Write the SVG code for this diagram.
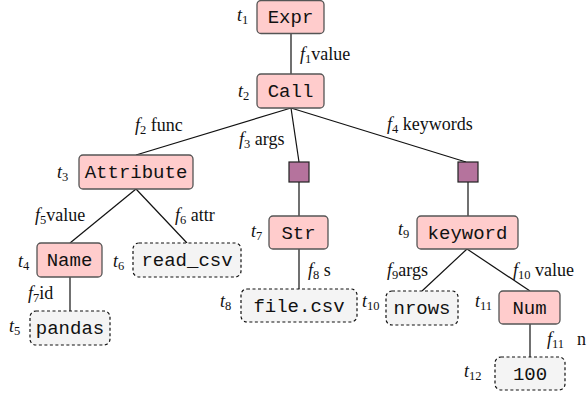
<svg xmlns="http://www.w3.org/2000/svg" width="587" height="396" viewBox="0 0 587 396">
<style>
.n rect{fill:#ffcccc;stroke:#555;stroke-width:1.3}
.d rect{fill:#f4f4f4;stroke:#111;stroke-width:1.2;stroke-dasharray:3,2.5}
.s rect{fill:#b5739d;stroke:#222;stroke-width:1.2}
.lbl{font-family:"Liberation Mono","DejaVu Sans Mono",monospace;font-size:19px;fill:#111;text-anchor:middle}
.t{font-family:"Liberation Serif","Times New Roman",serif;font-size:18px;fill:#111}
.i{font-style:italic}
.sub{font-size:12.5px}
#edges line{stroke:#111;stroke-width:1.2}
</style>
<rect width="587" height="396" fill="#fff"/>
<g id="edges">
<line x1="291" y1="33" x2="291" y2="74"/>
<line x1="291" y1="108" x2="136" y2="155"/>
<line x1="291" y1="108" x2="299" y2="162"/>
<line x1="291" y1="108" x2="466" y2="162"/>
<line x1="136" y1="189" x2="70" y2="243"/>
<line x1="136" y1="189" x2="187" y2="243"/>
<line x1="70" y1="277" x2="70" y2="311"/>
<line x1="299" y1="182" x2="299" y2="216"/>
<line x1="299" y1="249" x2="299" y2="289"/>
<line x1="468" y1="182" x2="468" y2="216"/>
<line x1="467" y1="249" x2="422" y2="291"/>
<line x1="467" y1="249" x2="530" y2="291"/>
<line x1="530" y1="324" x2="530" y2="357"/>
</g>
<g id="t1" class="n"><rect x="257" y="0.5" width="67" height="33" rx="4"/><text class="lbl" x="290.5" y="23">Expr</text></g>
<g id="t2" class="n"><rect x="257" y="74" width="67" height="34" rx="4"/><text class="lbl" x="290.5" y="97">Call</text></g>
<g id="t3" class="n"><rect x="79" y="155" width="114" height="34" rx="4"/><text class="lbl" x="136" y="178">Attribute</text></g>
<g id="t4" class="n"><rect x="37" y="243" width="65" height="34" rx="4"/><text class="lbl" x="69.5" y="266">Name</text></g>
<g id="t6" class="d"><rect x="133" y="243" width="108" height="34" rx="6"/><text class="lbl" x="187" y="266">read_csv</text></g>
<g id="t5" class="d"><rect x="30" y="311" width="80" height="34" rx="6"/><text class="lbl" x="70" y="334">pandas</text></g>
<g id="sq1" class="s"><rect x="289" y="162" width="20" height="20"/></g>
<g id="sq2" class="s"><rect x="458" y="162" width="20" height="20"/></g>
<g id="t7" class="n"><rect x="269" y="216" width="59" height="33" rx="4"/><text class="lbl" x="298.5" y="238.5">Str</text></g>
<g id="t8" class="d"><rect x="241" y="289" width="116" height="33" rx="6"/><text class="lbl" x="299" y="311.5">file.csv</text></g>
<g id="t9" class="n"><rect x="417" y="216" width="101" height="33" rx="4"/><text class="lbl" x="467.5" y="238.5">keyword</text></g>
<g id="t10" class="d"><rect x="386" y="291" width="72" height="34" rx="6"/><text class="lbl" x="422" y="314">nrows</text></g>
<g id="t11" class="n"><rect x="499" y="291" width="61" height="33" rx="4"/><text class="lbl" x="529.5" y="313.5">Num</text></g>
<g id="t12" class="d"><rect x="495" y="357" width="70" height="33" rx="6"/><text class="lbl" x="530" y="379.5">100</text></g>
<g id="tlabels" class="t">
<text x="237" y="21"><tspan class="i">t</tspan><tspan class="sub" dy="3">1</tspan></text>
<text x="238" y="97"><tspan class="i">t</tspan><tspan class="sub" dy="3">2</tspan></text>
<text x="57" y="178"><tspan class="i">t</tspan><tspan class="sub" dy="3">3</tspan></text>
<text x="18" y="267"><tspan class="i">t</tspan><tspan class="sub" dy="3">4</tspan></text>
<text x="9" y="332"><tspan class="i">t</tspan><tspan class="sub" dy="3">5</tspan></text>
<text x="113" y="267"><tspan class="i">t</tspan><tspan class="sub" dy="3">6</tspan></text>
<text x="251" y="237"><tspan class="i">t</tspan><tspan class="sub" dy="3">7</tspan></text>
<text x="220" y="307"><tspan class="i">t</tspan><tspan class="sub" dy="3">8</tspan></text>
<text x="398" y="235"><tspan class="i">t</tspan><tspan class="sub" dy="3">9</tspan></text>
<text x="362" y="307"><tspan class="i">t</tspan><tspan class="sub" dy="3">10</tspan></text>
<text x="475" y="307"><tspan class="i">t</tspan><tspan class="sub" dy="3">11</tspan></text>
<text x="464" y="377"><tspan class="i">t</tspan><tspan class="sub" dy="3">12</tspan></text>
</g>
<g id="flabels" class="t">
<text x="300" y="60"><tspan class="i">f</tspan><tspan class="sub" dy="3">1</tspan><tspan dy="-3">value</tspan></text>
<text x="135" y="131"><tspan class="i">f</tspan><tspan class="sub" dy="3">2</tspan><tspan dy="-3"> func</tspan></text>
<text x="239" y="145"><tspan class="i">f</tspan><tspan class="sub" dy="3">3</tspan><tspan dy="-3"> args</tspan></text>
<text x="387" y="130"><tspan class="i">f</tspan><tspan class="sub" dy="3">4</tspan><tspan dy="-3"> keywords</tspan></text>
<text x="35" y="221"><tspan class="i">f</tspan><tspan class="sub" dy="3">5</tspan><tspan dy="-3">value</tspan></text>
<text x="175" y="221"><tspan class="i">f</tspan><tspan class="sub" dy="3">6</tspan><tspan dy="-3"> attr</tspan></text>
<text x="28" y="299"><tspan class="i">f</tspan><tspan class="sub" dy="3">7</tspan><tspan dy="-3">id</tspan></text>
<text x="308" y="276"><tspan class="i">f</tspan><tspan class="sub" dy="3">8</tspan><tspan dy="-3"> s</tspan></text>
<text x="387" y="276"><tspan class="i">f</tspan><tspan class="sub" dy="3">9</tspan><tspan dy="-3">args</tspan></text>
<text x="513" y="276"><tspan class="i">f</tspan><tspan class="sub" dy="3">10</tspan><tspan dy="-3"> value</tspan></text>
<text x="547" y="345"><tspan class="i">f</tspan><tspan class="sub" dy="3">11</tspan><tspan x="577" dy="-3">n</tspan></text>
</g>
</svg>
